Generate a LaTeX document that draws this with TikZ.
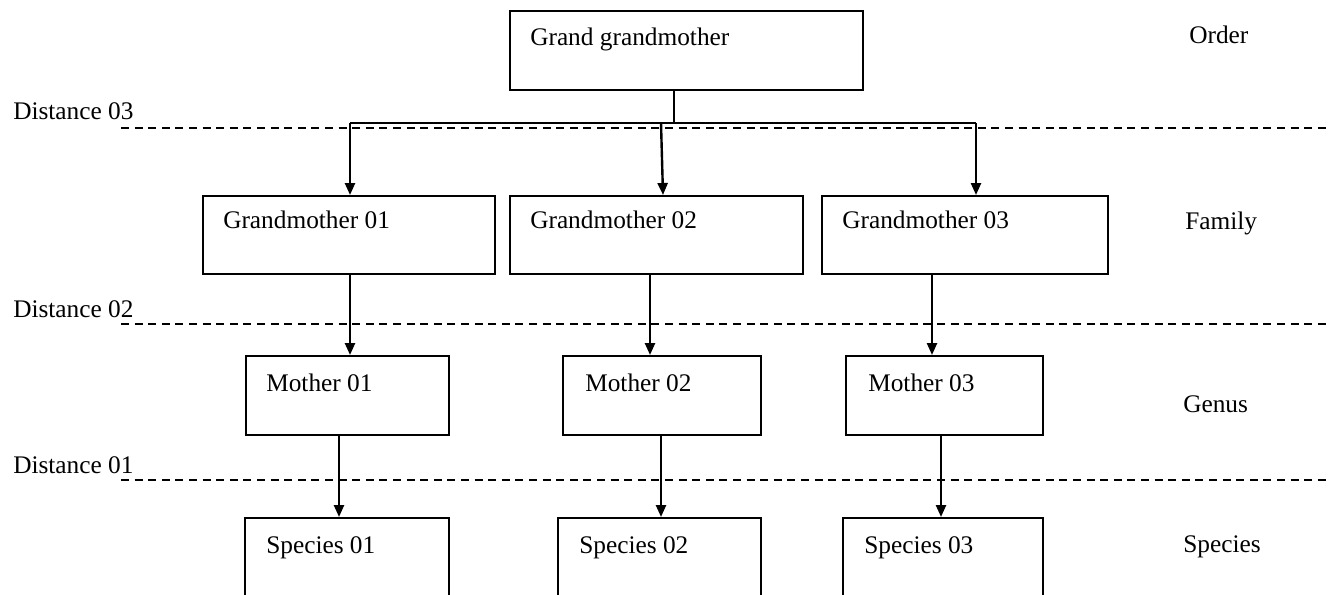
\documentclass[tikz,border=0pt]{standalone}
\usepackage{fontspec}
\setmainfont{Liberation Serif}
\usetikzlibrary{arrows.meta,calc}

\tikzset{
  box/.style={draw, line width=1.5pt, rectangle, anchor=north west, inner sep=0pt},
  txt/.style={anchor=base west, inner sep=0pt, font=\fontsize{19}{22}\selectfont},
  arr/.style={line width=1.8pt, -{Triangle[width=7.5pt,length=9pt]}},
  stem/.style={line width=1.8pt},
  level/.style={dashed, line width=1.2pt, dash pattern=on 6pt off 4.2pt}
}

\begin{document}
\begin{tikzpicture}[x=0.75pt, y=-0.75pt]
  \useasboundingbox (0,0) rectangle (1331,594);
  \clip (0,0) rectangle (1331,594);

  % level separators
  \coordinate (d3a) at (121,128); \coordinate (d3b) at (1331,128);
  \coordinate (d2a) at (121,324); \coordinate (d2b) at (1331,324);
  \coordinate (d1a) at (121,480); \coordinate (d1b) at (1331,480);
  \draw[level] (d3a) -- (d3b);
  \draw[level] (d2a) -- (d2b);
  \draw[level] (d1a) -- (d1b);

  \node[txt] (lab3) at (13,119) {Distance 03};
  \node[txt] (lab2) at (13,317) {Distance 02};
  \node[txt] (lab1) at (13,473) {Distance 01};

  % rank names on the right
  \node[txt] (order)   at (1189,43)  {Order};
  \node[txt] (family)  at (1185,229) {Family};
  \node[txt] (genus)   at (1183,412) {Genus};
  \node[txt] (species) at (1183,552) {Species};

  % boxes
  \node[box, minimum width={353*0.75pt}, minimum height={79*0.75pt}] (gg)  at (509,10)  {};
  \node[box, minimum width={292*0.75pt}, minimum height={78*0.75pt}] (gm1) at (202,195) {};
  \node[box, minimum width={293*0.75pt}, minimum height={78*0.75pt}] (gm2) at (509,195) {};
  \node[box, minimum width={286*0.75pt}, minimum height={78*0.75pt}] (gm3) at (821,195) {};
  \node[box, minimum width={203*0.75pt}, minimum height={79*0.75pt}] (m1)  at (245,355) {};
  \node[box, minimum width={198*0.75pt}, minimum height={79*0.75pt}] (m2)  at (562,355) {};
  \node[box, minimum width={197*0.75pt}, minimum height={79*0.75pt}] (m3)  at (845,355) {};
  \node[box, minimum width={204*0.75pt}, minimum height={100*0.75pt}] (s1) at (244,517) {};
  \node[box, minimum width={203*0.75pt}, minimum height={100*0.75pt}] (s2) at (557,517) {};
  \node[box, minimum width={200*0.75pt}, minimum height={100*0.75pt}] (s3) at (842,517) {};

  % box captions
  \node[txt] (tgg)  at ($(gg.north west)+(21,35)$)  {Grand grandmother};
  \node[txt] (tgm1) at ($(gm1.north west)+(21,33)$) {Grandmother 01};
  \node[txt] (tgm2) at ($(gm2.north west)+(21,33)$) {Grandmother 02};
  \node[txt] (tgm3) at ($(gm3.north west)+(21,33)$) {Grandmother 03};
  \node[txt] (tm1)  at ($(m1.north west)+(21,36)$)  {Mother 01};
  \node[txt] (tm2)  at ($(m2.north west)+(23,36)$)  {Mother 02};
  \node[txt] (tm3)  at ($(m3.north west)+(23,36)$)  {Mother 03};
  \node[txt] (ts1)  at ($(s1.north west)+(22,36)$)  {Species 01};
  \node[txt] (ts2)  at ($(s2.north west)+(22,36)$)  {Species 02};
  \node[txt] (ts3)  at ($(s3.north west)+(22,36)$)  {Species 03};

  % branching from the top box
  \coordinate (j)  at (674,123);
  \coordinate (b1) at (350,123);
  \coordinate (b2) at (661,123);
  \coordinate (b3) at (976,123);
  \coordinate (b2e) at (663,0);
  \draw[stem] (gg.south -| j) -- (j);
  \draw[stem] (b1) -- (b3);
  \draw[arr] (b1) -- (b1 |- gm1.north);
  \draw[arr] (b2) -- (b2e |- gm2.north);
  \draw[arr] (b3) -- (b3 |- gm3.north);

  % grandmother -> mother
  \coordinate (c1) at (350,0);
  \coordinate (c2) at (650,0);
  \coordinate (c3) at (932,0);
  \draw[arr] (gm1.south -| c1) -- (m1.north -| c1);
  \draw[arr] (gm2.south -| c2) -- (m2.north -| c2);
  \draw[arr] (gm3.south -| c3) -- (m3.north -| c3);

  % mother -> species
  \coordinate (e1) at (339,0);
  \coordinate (e2) at (661,0);
  \coordinate (e3) at (941,0);
  \draw[arr] (m1.south -| e1) -- (s1.north -| e1);
  \draw[arr] (m2.south -| e2) -- (s2.north -| e2);
  \draw[arr] (m3.south -| e3) -- (s3.north -| e3);
\end{tikzpicture}
\end{document}
